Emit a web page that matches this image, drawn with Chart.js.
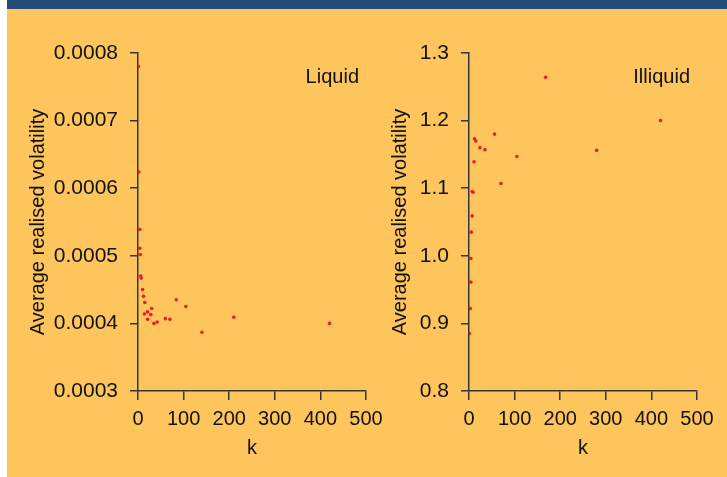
<!DOCTYPE html>
<html>
<head>
<meta charset="utf-8">
<script src="https://cdn.jsdelivr.net/npm/chart.js@4"></script>
<style>
    body { margin: 0; background: #ffffff; }
    #frame { position: absolute; left: 7px; top: 0; width: 720px; height: 477px; background: #FEC55D; }
    #band { position: absolute; left: 7px; top: 0; width: 720px; height: 9px; background: #244C79; }
    canvas { position: absolute; top: 0; }
    #liquid-chart { left: 0; }
    #illiquid-chart { left: 362px; }
</style>
</head>
<body>
<div id="frame"></div>
<div id="band"></div>
<canvas id="liquid-chart" width="400" height="477"></canvas>
<canvas id="illiquid-chart" width="365" height="477"></canvas>
<script>
// Liquid panel: k against average realised volatility
const liquidK = [1, 2, 4, 4, 5, 6, 7, 10, 12, 14, 15, 21, 21, 28, 30, 35, 42, 60, 70, 84, 105, 140, 210, 420];
const liquidVol = [0.00078, 0.000624, 0.000539, 0.000511, 0.000502, 0.00047, 0.000467, 0.00045, 0.00044, 0.000414,
    0.000431, 0.000417, 0.000406, 0.000413, 0.000422, 0.0004, 0.000402, 0.000407, 0.000406, 0.000435,
    0.000425, 0.000387, 0.000409, 0.0004];

// Illiquid panel
const illiquidK = [1, 3, 4, 4, 5, 7, 7, 9, 11, 12, 15, 24, 35, 56, 70, 105, 168, 280, 420];
const illiquidVol = [0.885, 0.922, 0.961, 0.996, 1.035, 1.059, 1.095, 1.094, 1.139, 1.173,
    1.17, 1.16, 1.157, 1.18, 1.107, 1.147, 1.264, 1.156, 1.2];

const xTicks = [0, 100, 200, 300, 400, 500];
const liquidTicks = [0.0003, 0.0004, 0.0005, 0.0006, 0.0007, 0.0008];
const illiquidTicks = [0.8, 0.9, 1.0, 1.1, 1.2, 1.3];

const FONT = "'Liberation Sans', Arial, sans-serif";
const AXIS = '#353535';
const POINT = '#EE1D23';

// draws the panel name in the top right corner
const panelLabel = {
    id: 'panelLabel',
    afterDraw(chart, args, opts) {
        const ctx = chart.ctx;
        const area = chart.chartArea;
        ctx.save();
        ctx.font = '20px ' + FONT;
        ctx.fillStyle = '#111';
        ctx.textAlign = 'right';
        ctx.textBaseline = 'alphabetic';
        ctx.fillText(opts.text, area.right - 7, area.top + 30);
        ctx.restore();
    }
};

function makePoints(ks, vals) {
    return ks.map((k, i) => ({ x: k, y: vals[i] }));
}

function createPanel(canvasId, ks, vals, yTicks, digits, yWidth, rightPad, label) {
    const ctx = document.getElementById(canvasId).getContext('2d');

    new Chart(ctx, {
        type: 'scatter',
        data: {
            datasets: [{
                data: makePoints(ks, vals),
                backgroundColor: POINT,
                borderWidth: 0,
                pointRadius: 1.8,
                pointHoverRadius: 1.8
            }]
        },
        options: {
            responsive: false,
            animation: false,
            devicePixelRatio: 1,
            layout: { padding: { top: 53, right: rightPad, bottom: 0, left: 0 } },
            plugins: {
                legend: { display: false },
                tooltip: { enabled: false },
                panelLabel: { text: label }
            },
            elements: { point: { clip: false } },
            scales: {
                x: {
                    type: 'linear',
                    min: xTicks[0],
                    max: xTicks[xTicks.length - 1],
                    afterBuildTicks: scale => { scale.ticks = xTicks.map(v => ({ value: v })); },
                    afterFit: scale => { scale.height = 86; },
                    border: { color: AXIS, width: 1.5 },
                    grid: { drawOnChartArea: false, drawTicks: true, tickLength: 9, color: AXIS, lineWidth: 1.5 },
                    ticks: { color: '#111', padding: 7, maxRotation: 0, font: { family: FONT, size: 20 } },
                    title: { display: true, text: 'k', color: '#111', padding: { top: 0, bottom: 17 }, font: { family: FONT, size: 20 } }
                },
                y: {
                    type: 'linear',
                    min: yTicks[0],
                    max: yTicks[yTicks.length - 1],
                    afterBuildTicks: scale => { scale.ticks = yTicks.map(v => ({ value: v })); },
                    afterFit: scale => { scale.width = yWidth; },
                    border: { color: AXIS, width: 1.5 },
                    grid: { drawOnChartArea: false, drawTicks: true, tickLength: 8, color: AXIS, lineWidth: 1.5 },
                    ticks: {
                        color: '#111',
                        padding: 12,
                        font: { family: FONT, size: 21 },
                        callback: v => v.toFixed(digits)
                    },
                    title: {
                        display: true,
                        text: 'Average realised volatility',
                        color: '#111',
                        padding: { top: 26, bottom: 0 },
                        font: { family: FONT, size: 20 }
                    }
                }
            }
        },
        plugins: [panelLabel]
    });
}

function initApp() {
    createPanel('liquid-chart', liquidK, liquidVol, liquidTicks, 4, 138, 34, 'Liquid');
    createPanel('illiquid-chart', illiquidK, illiquidVol, illiquidTicks, 1, 107, 30, 'Illiquid');
}

initApp();
</script>
</body>
</html>
